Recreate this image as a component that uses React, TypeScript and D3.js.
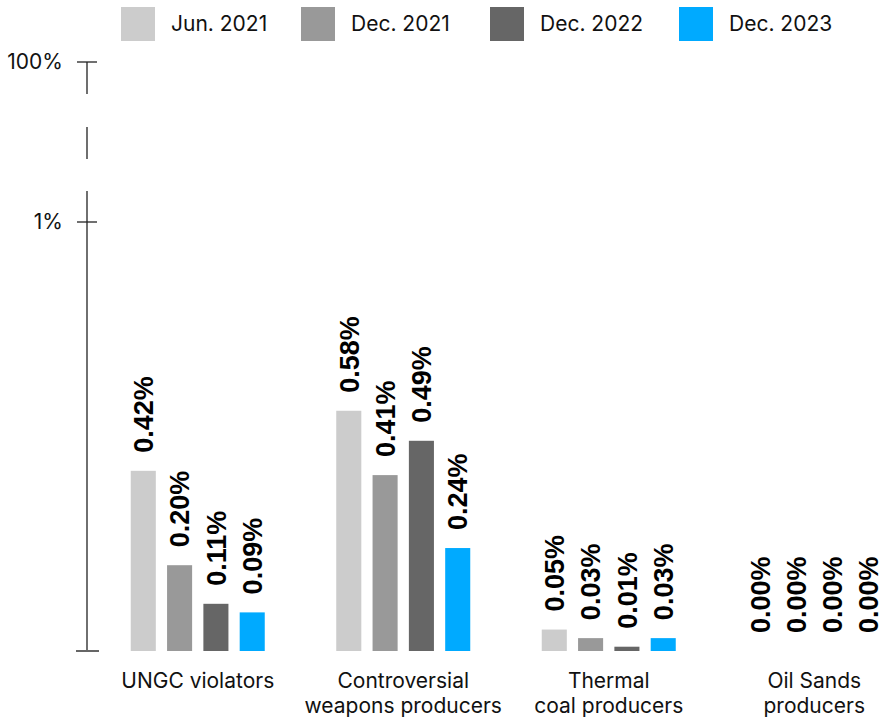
import React from "react";
import * as d3 from "d3";

const categories = ["UNGC violators", "Controversial\nweapons producers", "Thermal\ncoal producers", "Oil Sands\nproducers"];
const seriesNames = ["Jun. 2021", "Dec. 2021", "Dec. 2022", "Dec. 2023"];
const seriesColors = ["#cccccc", "#999999", "#666666", "#00aaff"];
// bar heights (percent)
const jun2021 = [0.42, 0.56, 0.05, 0];
const dec2021 = [0.2, 0.41, 0.03, 0];
const dec2022 = [0.11, 0.49, 0.01, 0];
const dec2023 = [0.09, 0.24, 0.03, 0];
// printed labels
const jun2021Labels = ["0.42%", "0.58%", "0.05%", "0.00%"];
const dec2021Labels = ["0.20%", "0.41%", "0.03%", "0.00%"];
const dec2022Labels = ["0.11%", "0.49%", "0.01%", "0.00%"];
const dec2023Labels = ["0.09%", "0.24%", "0.03%", "0.00%"];
const tickValues = [100, 1];
const tickLabels = ["100%", "1%"];

const W = 882;
const H = 718;
const AXIS_X = 87;
const LEGEND_X = [121, 301, 490, 679];

export default function App() {
  const values = [jun2021, dec2021, dec2022, dec2023];
  const labels = [jun2021Labels, dec2021Labels, dec2022Labels, dec2023Labels];

  const y = d3.scaleLinear().domain([0, 1, 100]).range([651, 222, 62]);
  const x0 = d3.scaleBand<string>().domain(categories).range([95, 917]).padding(0);
  const innerW = 134;
  const x1 = d3.scaleBand<string>().domain(seriesNames).range([-innerW / 2, innerW / 2]).paddingInner(0.31).paddingOuter(0);

  const labelFont = "'Inter', 'Liberation Sans', sans-serif";
  const valueFont = "'Liberation Sans', Arial, sans-serif";

  return (
    <svg width={W} height={H} style={{ position: "absolute", left: 0, top: 0, background: "#fff" }}>
      {/* legend */}
      {seriesNames.map((s, i) => (
        <g key={s} transform={`translate(${LEGEND_X[i]},7)`}>
          <rect width={34} height={34} fill={seriesColors[i]} />
          <text x={50} y={17} dy="0.35em" fontFamily={labelFont} fontSize={21} fill="#111">
            {s}
          </text>
        </g>
      ))}

      {/* axis */}
      <line x1={AXIS_X} x2={AXIS_X} y1={y(100)} y2={191} stroke="#222" strokeWidth={1.3} strokeDasharray="32,33" />
      <line x1={AXIS_X} x2={AXIS_X} y1={191} y2={y(0)} stroke="#222" strokeWidth={1.3} />
      {tickValues.map((t, i) => (
        <g key={t}>
          <line x1={AXIS_X - 10} x2={AXIS_X + 10} y1={y(t)} y2={y(t)} stroke="#222" strokeWidth={1.3} />
          <text x={63} y={y(t)} dy="0.35em" textAnchor="end" fontFamily={labelFont} fontSize={21} fill="#111">
            {tickLabels[i]}
          </text>
        </g>
      ))}
      <line x1={AXIS_X - 11} x2={AXIS_X + 12} y1={y(0)} y2={y(0)} stroke="#666" strokeWidth={2} />

      {/* bars */}
      {categories.map((c, ci) => {
        const cx = (x0(c) as number) + x0.bandwidth() / 2;
        return (
          <g key={c} transform={`translate(${cx},0)`}>
            {seriesNames.map((s, si) => {
              const v = values[si][ci];
              const bx = x1(s) as number;
              const bw = x1.bandwidth();
              const top = y(v);
              return (
                <g key={s}>
                  <rect x={bx} y={top} width={bw} height={y(0) - top} fill={seriesColors[si]} />
                  <text
                    transform={`translate(${bx + bw / 2},${top - 18}) rotate(-90)`}
                    dy="0.36em"
                    fontFamily={valueFont}
                    fontWeight="bold"
                    fontSize={27}
                    fill="#000"
                  >
                    {labels[si][ci]}
                  </text>
                </g>
              );
            })}
            <text textAnchor="middle" fontFamily={labelFont} fontSize={21} fill="#111">
              {c.split("\n").map((line, li) => (
                <tspan key={li} x={0} y={681 + li * 25} dy="0.35em">
                  {line}
                </tspan>
              ))}
            </text>
          </g>
        );
      })}
    </svg>
  );
}
